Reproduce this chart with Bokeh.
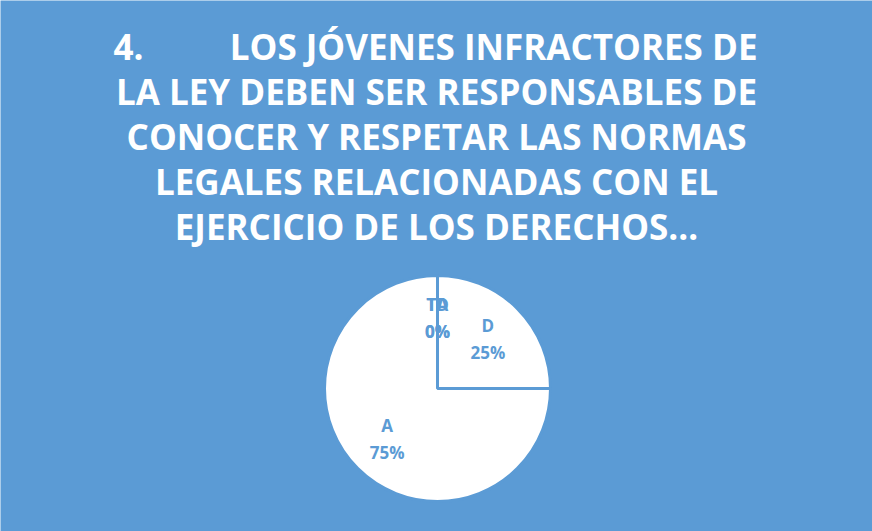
import math
from bokeh.plotting import figure
from bokeh.models import ColumnDataSource, Label
from bokeh.embed import file_html
from bokeh.resources import INLINE

# ---- data ----
categories = ["TD", "D", "A", "TA"]
percents = [0, 25, 75, 0]
title_number = "4."
title_lines = [
    "LOS JÓVENES INFRACTORES DE",
    "LA LEY DEBEN SER RESPONSABLES DE",
    "CONOCER Y RESPETAR LAS NORMAS",
    "LEGALES RELACIONADAS CON EL",
    "EJERCICIO DE LOS DERECHOS…",
]

BLUE = "#5B9BD5"
W, H = 872, 531
FONT = "Open Sans"

p = figure(width=W, height=H, output_backend="svg", toolbar_location=None,
           x_range=(0, W), y_range=(0, H), min_border=0,
           background_fill_color=BLUE, border_fill_color=BLUE, outline_line_color=None)
p.axis.visible = False
p.grid.visible = False

cx, cy, r = 437, H - 388, 113

total = sum(percents)
starts, ends, mids = [], [], []
acc = 0
for v in percents:
    frac0 = acc / total
    acc += v
    frac1 = acc / total
    starts.append(math.pi / 2 - 2 * math.pi * frac0)
    ends.append(math.pi / 2 - 2 * math.pi * frac1)
    mids.append(math.pi / 2 - 2 * math.pi * (frac0 + frac1) / 2)

nz = [i for i, v in enumerate(percents) if v > 0]
src = ColumnDataSource(dict(
    start=[starts[i] for i in nz], end=[ends[i] for i in nz],
))
p.wedge(x=cx, y=cy, radius=r, start_angle="start", end_angle="end",
        direction="clock", source=src, fill_color="white",
        line_color=BLUE, line_width=3)

lr = 0.63 * r
for i, cat in enumerate(categories):
    lx = cx + lr * math.cos(mids[i])
    ly = cy + lr * math.sin(mids[i])
    for txt, dy in ((cat, 13), (f"{percents[i]}%", -14)):
        p.add_layout(Label(x=lx, y=ly + dy, text=txt, text_align="center",
                           text_baseline="middle", text_color=BLUE,
                           text_font=FONT, text_font_style="bold",
                           text_font_size="17px"))

# title
line_centers = [46, 91, 136, 181, 226]
for i, t in enumerate(title_lines):
    yy = H - line_centers[i]
    if i == 0:
        p.add_layout(Label(x=113, y=yy, x_units="screen", y_units="screen",
                           text=title_number, text_align="left",
                           text_baseline="middle", text_color="white",
                           text_font=FONT, text_font_style="bold",
                           text_font_size="35px"))
        p.add_layout(Label(x=757, y=yy, x_units="screen", y_units="screen",
                           text=t, text_align="right",
                           text_baseline="middle", text_color="white",
                           text_font=FONT, text_font_style="bold",
                           text_font_size="35px"))
    else:
        p.add_layout(Label(x=436, y=yy, x_units="screen", y_units="screen",
                           text=t, text_align="center",
                           text_baseline="middle", text_color="white",
                           text_font=FONT, text_font_style="bold",
                           text_font_size="35px"))

open("out.html", "w").write(file_html(p, INLINE))
